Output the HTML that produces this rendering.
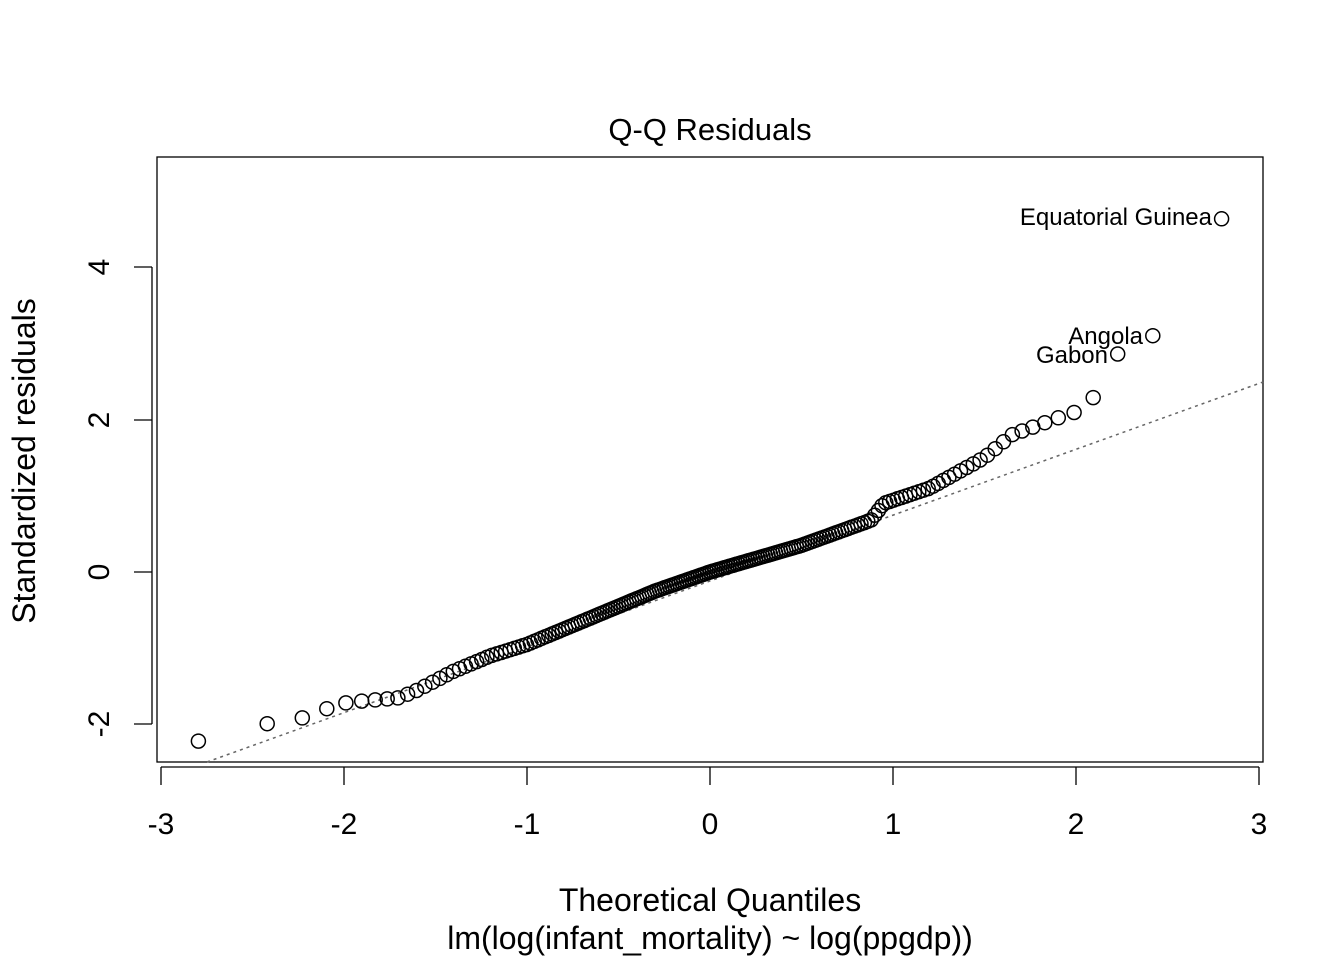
<!DOCTYPE html>
<html><head><meta charset="utf-8"><style>
body{margin:0;background:#fff}
svg text{font-family:"Liberation Sans",Arial,sans-serif;fill:#000}
</style></head><body>
<svg id="s" width="1344" height="960" xmlns="http://www.w3.org/2000/svg">
<rect x="157" y="157" width="1106" height="605" fill="none" stroke="#000" stroke-width="1.3"/>
<text x="710" y="140" font-size="31" text-anchor="middle">Q-Q Residuals</text>
<line x1="161" y1="767" x2="1259" y2="767" stroke="#000" stroke-width="1.3"/>
<g stroke="#000" stroke-width="1.3">
<line x1="161" y1="767" x2="161" y2="785"/><line x1="344" y1="767" x2="344" y2="785"/><line x1="527" y1="767" x2="527" y2="785"/><line x1="710" y1="767" x2="710" y2="785"/><line x1="893" y1="767" x2="893" y2="785"/><line x1="1076" y1="767" x2="1076" y2="785"/><line x1="1259" y1="767" x2="1259" y2="785"/>
<line x1="152" y1="267" x2="152" y2="724"/>
<line x1="152" y1="724" x2="134" y2="724"/><line x1="152" y1="572" x2="134" y2="572"/><line x1="152" y1="420" x2="134" y2="420"/><line x1="152" y1="267" x2="134" y2="267"/>
</g>
<g font-size="30" text-anchor="middle">
<text x="161" y="834">-3</text><text x="344" y="834">-2</text><text x="527" y="834">-1</text><text x="710" y="834">0</text><text x="893" y="834">1</text><text x="1076" y="834">2</text><text x="1259" y="834">3</text>
<text transform="translate(109,724) rotate(-90)">-2</text>
<text transform="translate(109,572) rotate(-90)">0</text>
<text transform="translate(109,420) rotate(-90)">2</text>
<text transform="translate(109,267) rotate(-90)">4</text>
</g>
<g font-size="32" text-anchor="middle">
<text x="710" y="911">Theoretical Quantiles</text>
<text x="710" y="949">lm(log(infant_mortality) ~ log(ppgdp))</text>
<text transform="translate(35,461) rotate(-90)">Standardized residuals</text>
</g>
<line x1="207" y1="762" x2="1263" y2="382" stroke="#666" stroke-width="1.5" stroke-dasharray="3,4"/>
<g font-size="24" text-anchor="end">
<text x="1212" y="225">Equatorial Guinea</text>
<text x="1143" y="344">Angola</text>
<text x="1108" y="363">Gabon</text>
</g>
<g id="pts" fill="none" stroke="#000" stroke-width="1.5"></g>
</svg>
<script>
function qnorm(p){var a=[-39.69683028665376,220.9460984245205,-275.9285104469687,138.357751867269,-30.66479806614716,2.506628277459239],b=[-54.47609879822406,161.5858368580409,-155.6989798598866,66.80131188771972,-13.28068155288572],c=[-0.007784894002430293,-0.3223964580411365,-2.400758277161838,-2.549732539343734,4.374664141464968,2.938163982698783],d=[0.007784695709041462,0.3224671290700398,2.445134137142996,3.754408661907416];var q,r;if(p<0.02425){q=Math.sqrt(-2*Math.log(p));return(((((c[0]*q+c[1])*q+c[2])*q+c[3])*q+c[4])*q+c[5])/((((d[0]*q+d[1])*q+d[2])*q+d[3])*q+1);}if(p>1-0.02425){q=Math.sqrt(-2*Math.log(1-p));return-(((((c[0]*q+c[1])*q+c[2])*q+c[3])*q+c[4])*q+c[5])/((((d[0]*q+d[1])*q+d[2])*q+d[3])*q+1);}q=p-0.5;r=q*q;return(((((a[0]*r+a[1])*r+a[2])*r+a[3])*r+a[4])*r+a[5])*q/(((((b[0]*r+b[1])*r+b[2])*r+b[3])*r+b[4])*r+1);}
var K=[[-2.85,-2.25],[-2.8,-2.22],[-2.42,-1.99],[-2.22,-1.91],[-2.08,-1.78],[-1.98,-1.71],[-1.7,-1.65],[-1.6,-1.55],[-1.4,-1.3],[-1.2,-1.1],[-1,-0.95],[-0.5,-0.45],[-0.3,-0.25],[0,0],[0.5,0.35],[0.88,0.68],[0.95,0.9],[1.2,1.1],[1.5,1.5],[1.65,1.8],[1.9,2.02],[2.0,2.1],[2.1,2.3],[2.22,2.85],[2.42,3.1],[2.8,4.65],[2.9,4.8]];
function f(x){for(var i=1;i<K.length;i++){if(x<=K[i][0]){var t=(x-K[i-1][0])/(K[i][0]-K[i-1][0]);return K[i-1][1]+t*(K[i][1]-K[i-1][1]);}}return 4.8;}
var n=193,g=document.getElementById('pts'),h='';
for(var i=1;i<=n;i++){var x=qnorm((i-0.5)/n),y=f(x);h+='<circle cx="'+(710+183*x).toFixed(1)+'" cy="'+(572-76.25*y).toFixed(1)+'" r="7"/>';}
g.innerHTML=h;
</script>
</body></html>
